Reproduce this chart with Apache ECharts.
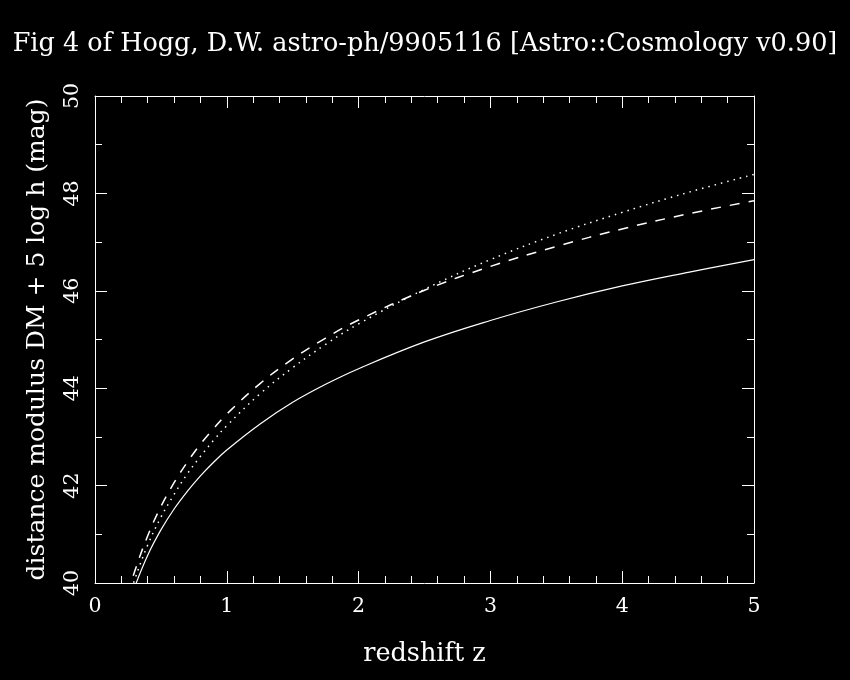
<!DOCTYPE html>
<html>
<head>
<meta charset="utf-8">
<script src="https://cdn.jsdelivr.net/npm/echarts@6/dist/echarts.min.js"></script>
<style>
  html, body { margin: 0; padding: 0; background: #000; }
  #chart { width: 850px; height: 680px; }
</style>
</head>
<body>
<div id="chart"></div>
<script>
// values (distance modulus DM + 5 log h vs redshift)
const redshift = [0.25, 0.3, 0.4, 0.5, 0.6, 0.7, 0.8, 0.9, 1.0, 1.25, 1.5, 1.75, 2.0, 2.5, 3.0, 3.5, 4.0, 4.5, 5.0];
const dmSolid  = [39.49, 39.91, 40.57, 41.09, 41.52, 41.88, 42.20, 42.48, 42.73, 43.26, 43.71, 44.08, 44.40, 44.95, 45.39, 45.77, 46.10, 46.38, 46.64];
const dmDotted = [39.62, 40.06, 40.78, 41.35, 41.82, 42.24, 42.60, 42.93, 43.23, 43.88, 44.42, 44.90, 45.32, 46.03, 46.64, 47.16, 47.61, 48.02, 48.39];
const dmDashed = [39.77, 40.23, 40.97, 41.57, 42.06, 42.48, 42.85, 43.17, 43.47, 44.09, 44.60, 45.03, 45.40, 46.01, 46.50, 46.91, 47.27, 47.58, 47.85];

const font = 'DejaVu Serif';
const fg = '#fff';

function pairs(ys) {
  return redshift.map((z, i) => [z, ys[i]]);
}

// tick-only axis: used for the mirrored frame sides and for the short minor ticks
function tickAxis(pos, min, max, interval, len, showLine) {
  return {
    type: 'value', position: pos, min: min, max: max, interval: interval,
    axisLine: { show: showLine, onZero: false, lineStyle: { color: fg, width: 1 } },
    axisTick: { show: true, inside: true, length: len, lineStyle: { color: fg } },
    axisLabel: { show: false },
    splitLine: { show: false }
  };
}

const chart = echarts.init(document.getElementById('chart'), null, { renderer: 'canvas' });

chart.setOption({
  backgroundColor: '#000',
  animation: false,
  title: {
    text: 'Fig 4 of Hogg, D.W. astro-ph/9905116 [Astro::Cosmology v0.90]',
    left: 'center',
    top: 26,
    textStyle: { color: fg, fontFamily: font, fontWeight: 'normal', fontSize: 25.5 }
  },
  grid: { left: 95, right: 96, top: 96, bottom: 97 },
  xAxis: [
    {
      type: 'value', min: 0, max: 5, interval: 1, position: 'bottom',
      name: 'redshift z', nameLocation: 'middle', nameGap: 58,
      nameTextStyle: { color: fg, fontFamily: font, fontSize: 25.5 },
      axisLine: { show: true, onZero: false, lineStyle: { color: fg, width: 1 } },
      axisTick: { show: true, inside: true, length: 12, lineStyle: { color: fg } },
      axisLabel: { color: fg, fontFamily: font, fontSize: 20.5, margin: 13 },
      splitLine: { show: false }
    },
    tickAxis('top', 0, 5, 1, 12, true),
    tickAxis('bottom', 0, 5, 0.2, 7, false),
    tickAxis('top', 0, 5, 0.2, 7, false)
  ],
  yAxis: [
    {
      type: 'value', min: 40, max: 50, interval: 2, position: 'left',
      name: 'distance modulus DM + 5 log h (mag)', nameLocation: 'middle', nameGap: 45, nameRotate: 90,
      nameTextStyle: { color: fg, fontFamily: font, fontSize: 25 },
      axisLine: { show: true, onZero: false, lineStyle: { color: fg, width: 1 } },
      axisTick: { show: true, inside: true, length: 12, lineStyle: { color: fg } },
      axisLabel: { color: fg, fontFamily: font, fontSize: 20.5, margin: 12, rotate: 90 },
      splitLine: { show: false }
    },
    tickAxis('right', 40, 50, 2, 12, true),
    tickAxis('left', 40, 50, 1, 7, false),
    tickAxis('right', 40, 50, 1, 7, false)
  ],
  series: [
    {
      name: 'solid', type: 'line', data: pairs(dmSolid), smooth: 0.4,
      showSymbol: false, clip: true,
      lineStyle: { color: fg, width: 1.2, type: 'solid' }
    },
    {
      name: 'dotted', type: 'line', data: pairs(dmDotted), smooth: 0.4,
      showSymbol: false, clip: true,
      lineStyle: { color: fg, width: 1.5, type: [1.5, 5] }
    },
    {
      name: 'dashed', type: 'line', data: pairs(dmDashed), smooth: 0.4,
      showSymbol: false, clip: true,
      lineStyle: { color: fg, width: 1.5, type: [10, 9] }
    }
  ]
});
</script>
</body>
</html>
